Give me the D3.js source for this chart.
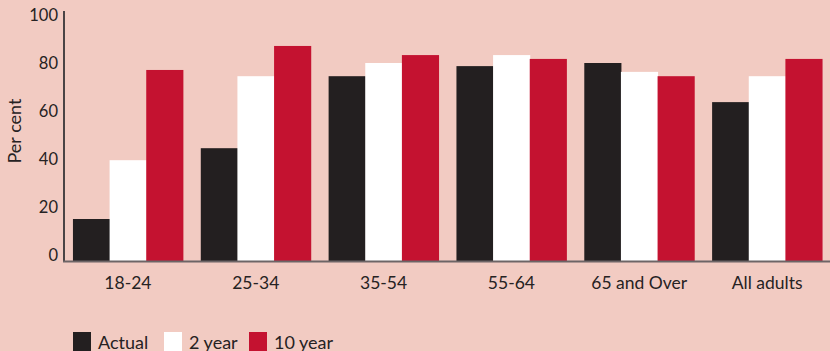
<!DOCTYPE html>
<html>
<head>
<meta charset="utf-8">
<script src="https://cdn.jsdelivr.net/npm/d3@7"></script>
<style>
  html, body { margin: 0; padding: 0; background: #f2cbc2; }
  svg { display: block; }
  text { font-family: Lato, "Open Sans", sans-serif; fill: #262223; }
</style>
</head>
<body>
<svg id="chart" width="830" height="351"></svg>
<script>
// Age groups along the x axis
const categories = ["18-24", "25-34", "35-54", "55-64", "65 and Over", "All adults"];
// Series names
const seriesNames = ["Actual", "2 year", "10 year"];
// Per cent values for each series, in category order
const actual   = [17.5, 47, 77, 81.2, 82.5, 66.2];
const twoYear  = [42, 77, 82.5, 85.8, 78.8, 77];
const tenYear  = [79.6, 89.6, 85.8, 84.2, 77, 84.2];
const yTicks = [0, 20, 40, 60, 80, 100];
const seriesColors = ["#231f20", "#ffffff", "#c41230"];

const seriesValues = [actual, twoYear, tenYear];
const svg = d3.select("#chart");

const left = 64, right = 831, baseY = 261, topY = 21;

const x0 = d3.scaleBand().domain(categories).range([left, right])
  .paddingInner(0.14).paddingOuter(0.07);
const x1 = d3.scaleBand().domain(seriesNames).range([0, x0.bandwidth()]);
const y = d3.scaleLinear().domain([0, 100]).range([baseY, topY]);

// Bars
const groups = svg.append("g").selectAll("g")
  .data(categories)
  .join("g")
  .attr("transform", d => `translate(${x0(d)},0)`);

groups.selectAll("rect")
  .data((c, i) => seriesNames.map((s, j) => ({ s, j, v: seriesValues[j][i] })))
  .join("rect")
  .attr("x", d => x1(d.s))
  .attr("y", d => y(d.v))
  .attr("width", x1.bandwidth() + 0.5)
  .attr("height", d => baseY - y(d.v))
  .attr("fill", d => seriesColors[d.j]);

// Y axis
const yAxis = d3.axisLeft(y).tickValues(yTicks).tickSize(0).tickPadding(6);
const gy = svg.append("g").attr("transform", `translate(${left},0)`).call(yAxis);
gy.select(".domain").remove();
gy.selectAll("text")
  .attr("dy", "-0.05em")
  .style("font-size", "16.5px")
  .style("font-family", "Lato, 'Open Sans', sans-serif")
  .attr("fill", "#262223");
svg.append("line")
  .attr("x1", left).attr("x2", left)
  .attr("y1", 11).attr("y2", baseY + 1)
  .attr("stroke", "#4a4445").attr("stroke-width", 2);

// X axis
const xAxis = d3.axisBottom(x0).tickSize(0).tickPadding(16);
const gx = svg.append("g").attr("transform", `translate(0,${baseY})`).call(xAxis);
gx.select(".domain").remove();
gx.selectAll("text")
  .style("font-size", "17.5px")
  .style("font-family", "Lato, 'Open Sans', sans-serif")
  .attr("fill", "#262223");
svg.append("line")
  .attr("x1", left - 1).attr("x2", 830)
  .attr("y1", baseY + 0.5).attr("y2", baseY + 0.5)
  .attr("stroke", "#6d6566").attr("stroke-width", 2);

// Y axis title
svg.append("text")
  .attr("transform", "translate(21,131) rotate(-90)")
  .attr("text-anchor", "middle")
  .style("font-size", "18px")
  .text("Per cent");

// Legend
const legendX = [73, 164, 249];
const legend = svg.append("g").selectAll("g")
  .data(seriesNames)
  .join("g")
  .attr("transform", (d, i) => `translate(${legendX[i]},332)`);
legend.append("rect")
  .attr("width", 18).attr("height", 19)
  .attr("fill", (d, i) => seriesColors[i]);
legend.append("text")
  .attr("x", 25).attr("y", 17)
  .style("font-size", "18px")
  .text(d => d);
</script>
</body>
</html>
